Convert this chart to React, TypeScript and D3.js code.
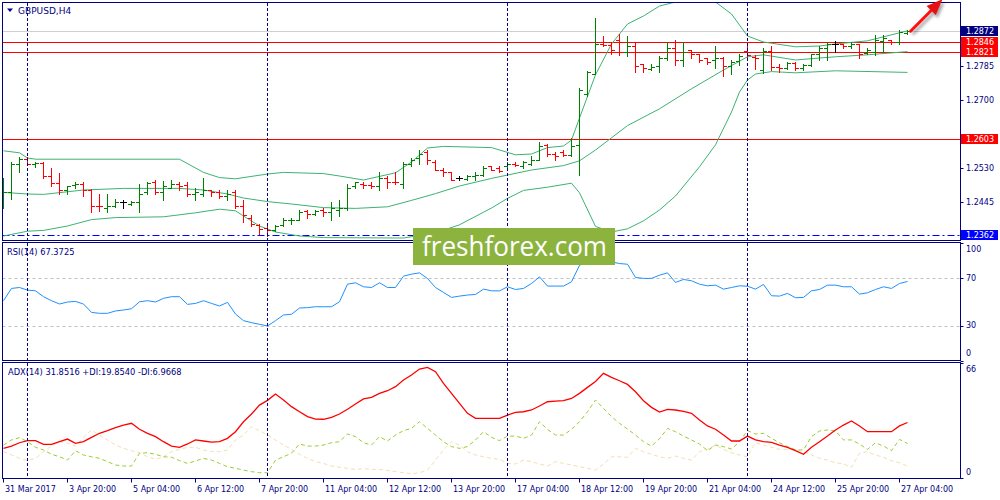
import React from "react";
import * as d3 from "d3";

// ---------- DATA ----------
const symbolTitle = "GBPUSD,H4";
const rsiTitle = "RSI(14) 67.3725";
const adxTitle = "ADX(14) 31.8516 +DI:19.8540 -DI:6.9668";

const timeTickBars = [0, 8, 16, 24, 32, 40, 48, 56, 64, 72, 80, 88, 96, 104, 112];
const timeTickLabels = [
  "31 Mar 2017", "3 Apr 20:00", "5 Apr 04:00", "6 Apr 12:00", "7 Apr 20:00",
  "11 Apr 04:00", "12 Apr 12:00", "13 Apr 20:00", "17 Apr 04:00", "18 Apr 12:00",
  "19 Apr 20:00", "21 Apr 04:00", "24 Apr 12:00", "25 Apr 20:00", "27 Apr 04:00",
];
const weekStartBars = [3, 33, 63, 93];

const priceTicks = [1.2785, 1.27, 1.2615, 1.253, 1.2445];
const redLevels = [1.2846, 1.2821, 1.2603];
const bidPrice = 1.2872;
const supportLevel = 1.2362;
const rsiLevels = [70, 30];
const rsiAxisLabels = [100, 70, 30, 0];
const adxAxisLabels = [66, 0];

const open = [
  1.2450, 1.2470, 1.2540, 1.2553, 1.2540, 1.2543, 1.2509, 1.2493, 1.2474, 1.2488,
  1.2491, 1.2475, 1.2436, 1.2431, 1.2434, 1.2444, 1.2441, 1.2446, 1.2469, 1.2496,
  1.2471, 1.2481, 1.2489, 1.2488, 1.2465, 1.2465, 1.2474, 1.2471, 1.2460, 1.2469,
  1.2435, 1.2405, 1.2388, 1.2380, 1.2375, 1.2388, 1.2400, 1.2401, 1.2423, 1.2416,
  1.2425, 1.2421, 1.2425, 1.2429, 1.2484, 1.2491, 1.2488, 1.2484, 1.2504, 1.2496,
  1.2491, 1.2541, 1.2554, 1.2569, 1.2546, 1.2525, 1.2519, 1.2504, 1.2503, 1.2509,
  1.2513, 1.2534, 1.2529, 1.2534, 1.2541, 1.2535, 1.2540, 1.2551, 1.2588, 1.2565,
  1.2571, 1.2563, 1.2588, 1.2716, 1.2766, 1.2841, 1.2838, 1.2850, 1.2821, 1.2836,
  1.2789, 1.2778, 1.2784, 1.2806, 1.2831, 1.2800, 1.2826, 1.2815, 1.2804, 1.2800,
  1.2805, 1.2784, 1.2798, 1.2823, 1.2808, 1.2775, 1.2823, 1.2783, 1.2780, 1.2793,
  1.2779, 1.2788, 1.2814, 1.2829, 1.2840, 1.2839, 1.2836, 1.2840, 1.2818, 1.2821,
  1.2848, 1.2850, 1.2844, 1.2868,
];
const high = [
  1.2505, 1.2545, 1.2558, 1.2558, 1.2545, 1.2544, 1.2530, 1.2518, 1.2484, 1.2494,
  1.2495, 1.2477, 1.2466, 1.2464, 1.2453, 1.2449, 1.2448, 1.2491, 1.2494, 1.2499,
  1.2498, 1.2500, 1.2494, 1.2494, 1.2479, 1.2504, 1.2476, 1.2475, 1.2476, 1.2476,
  1.2450, 1.2413, 1.2390, 1.2388, 1.2388, 1.2406, 1.2404, 1.2426, 1.2425, 1.2425,
  1.2431, 1.2444, 1.2449, 1.2491, 1.2496, 1.2494, 1.2494, 1.2519, 1.2509, 1.2521,
  1.2546, 1.2554, 1.2575, 1.2574, 1.2551, 1.2529, 1.2521, 1.2509, 1.2513, 1.2519,
  1.2534, 1.2535, 1.2534, 1.2544, 1.2544, 1.2548, 1.2559, 1.2596, 1.2590, 1.2571,
  1.2576, 1.2606, 1.2729, 1.2773, 1.2905, 1.2860, 1.2846, 1.2865, 1.2860, 1.2845,
  1.2791, 1.2791, 1.2809, 1.2844, 1.2849, 1.2846, 1.2826, 1.2816, 1.2806, 1.2835,
  1.2808, 1.2800, 1.2815, 1.2838, 1.2813, 1.2829, 1.2834, 1.2790, 1.2796, 1.2796,
  1.2791, 1.2816, 1.2834, 1.2846, 1.2848, 1.2841, 1.2844, 1.2841, 1.2830, 1.2863,
  1.2863, 1.2851, 1.2875, 1.2875,
];
const low = [
  1.2431, 1.2453, 1.2520, 1.2538, 1.2533, 1.2505, 1.2485, 1.2465, 1.2465, 1.2480,
  1.2460, 1.2419, 1.2423, 1.2421, 1.2433, 1.2430, 1.2438, 1.2421, 1.2465, 1.2465,
  1.2450, 1.2479, 1.2475, 1.2459, 1.2449, 1.2460, 1.2460, 1.2456, 1.2451, 1.2429,
  1.2395, 1.2384, 1.2365, 1.2360, 1.2373, 1.2384, 1.2390, 1.2399, 1.2404, 1.2413,
  1.2410, 1.2401, 1.2410, 1.2426, 1.2479, 1.2479, 1.2479, 1.2476, 1.2479, 1.2490,
  1.2481, 1.2535, 1.2541, 1.2540, 1.2524, 1.2509, 1.2499, 1.2499, 1.2500, 1.2501,
  1.2509, 1.2525, 1.2521, 1.2525, 1.2534, 1.2529, 1.2538, 1.2550, 1.2559, 1.2550,
  1.2559, 1.2560, 1.2513, 1.2709, 1.2765, 1.2835, 1.2816, 1.2813, 1.2810, 1.2771,
  1.2769, 1.2776, 1.2771, 1.2801, 1.2788, 1.2785, 1.2804, 1.2796, 1.2791, 1.2779,
  1.2760, 1.2765, 1.2788, 1.2805, 1.2778, 1.2768, 1.2774, 1.2771, 1.2778, 1.2775,
  1.2775, 1.2784, 1.2801, 1.2799, 1.2819, 1.2829, 1.2831, 1.2804, 1.2814, 1.2813,
  1.2821, 1.2840, 1.2840, 1.2865,
];
const close = [
  1.2470, 1.2540, 1.2553, 1.2540, 1.2543, 1.2509, 1.2493, 1.2475, 1.2484, 1.2491,
  1.2475, 1.2434, 1.2434, 1.2434, 1.2446, 1.2444, 1.2446, 1.2465, 1.2493, 1.2471,
  1.2485, 1.2491, 1.2486, 1.2465, 1.2471, 1.2474, 1.2469, 1.2460, 1.2466, 1.2434,
  1.2413, 1.2390, 1.2378, 1.2375, 1.2385, 1.2400, 1.2401, 1.2421, 1.2416, 1.2423,
  1.2421, 1.2429, 1.2431, 1.2481, 1.2494, 1.2488, 1.2484, 1.2504, 1.2494, 1.2494,
  1.2541, 1.2550, 1.2566, 1.2549, 1.2525, 1.2519, 1.2501, 1.2504, 1.2509, 1.2513,
  1.2529, 1.2526, 1.2523, 1.2541, 1.2538, 1.2544, 1.2551, 1.2584, 1.2565, 1.2561,
  1.2563, 1.2585, 1.2725, 1.2771, 1.2840, 1.2838, 1.2824, 1.2820, 1.2835, 1.2784,
  1.2781, 1.2783, 1.2806, 1.2831, 1.2800, 1.2821, 1.2816, 1.2801, 1.2796, 1.2804,
  1.2785, 1.2795, 1.2810, 1.2813, 1.2805, 1.2823, 1.2783, 1.2779, 1.2793, 1.2780,
  1.2788, 1.2814, 1.2829, 1.2841, 1.2840, 1.2835, 1.2840, 1.2816, 1.2825, 1.2850,
  1.2854, 1.2844, 1.2869, 1.2872,
];

const bbUpperBars = [0, 2, 3, 4, 22, 25, 27, 29, 33, 35, 40, 42, 45, 49, 51, 53, 55, 61, 64, 66, 68, 70, 71, 72, 74, 76, 78, 80, 82, 84, 86, 88, 89, 91, 93, 95, 99, 102, 104, 108, 110, 113];
const bbUpper = [1.2573, 1.2568, 1.2555, 1.2552, 1.2552, 1.2519, 1.2506, 1.2503, 1.2515, 1.2519, 1.2516, 1.2510, 1.2500, 1.2518, 1.2545, 1.2580, 1.2584, 1.2581, 1.2563, 1.2565, 1.2581, 1.2585, 1.2600, 1.2655, 1.2763, 1.2840, 1.2890, 1.2910, 1.2935, 1.2945, 1.2950, 1.2950, 1.2945, 1.2915, 1.2860, 1.2845, 1.2833, 1.2835, 1.2840, 1.2848, 1.2858, 1.2873];
const bbMiddleBars = [0, 3, 5, 10, 15, 22, 25, 28, 30, 33, 36, 40, 44, 48, 51, 54, 57, 61, 66, 70, 72, 74, 78, 82, 86, 90, 93, 95, 99, 102, 104, 108, 113];
const bbMiddle = [1.2469, 1.2465, 1.2464, 1.2475, 1.2479, 1.2479, 1.2475, 1.2465, 1.2455, 1.2446, 1.2440, 1.2431, 1.2429, 1.2433, 1.2449, 1.2466, 1.2485, 1.2504, 1.2525, 1.2536, 1.2548, 1.2575, 1.2636, 1.2678, 1.2728, 1.2775, 1.2808, 1.2813, 1.2800, 1.2805, 1.2808, 1.2813, 1.2821];
const bbLowerBars = [0, 3, 5, 8, 11, 14, 20, 24, 27, 29, 30, 32, 34, 37, 40, 50, 54, 57, 61, 63, 65, 68, 71, 72, 74, 76, 78, 80, 82, 84, 87, 89, 91, 92, 93, 94, 96, 99, 104, 113];
const bbLower = [1.2360, 1.2372, 1.2374, 1.2385, 1.2401, 1.2406, 1.2408, 1.2418, 1.2427, 1.2423, 1.2410, 1.2385, 1.2370, 1.2360, 1.2356, 1.2355, 1.2368, 1.2388, 1.2430, 1.2454, 1.2474, 1.2482, 1.2492, 1.2468, 1.2384, 1.2370, 1.2378, 1.2398, 1.2425, 1.2460, 1.2533, 1.2588, 1.2670, 1.2720, 1.2750, 1.2765, 1.2771, 1.2768, 1.2773, 1.2769];

const rsi = [
  51.1, 61.5, 62.3, 60.1, 59.5, 54.5, 51.1, 48.3, 50.0, 50.5,
  48.3, 41.2, 40.4, 40.4, 42.4, 43.2, 44.3, 50.2, 51.1, 50.0,
  53.1, 54.5, 54.5, 48.0, 48.8, 51.1, 48.8, 46.6, 49.7, 39.8,
  34.2, 32.5, 31.1, 29.7, 34.2, 39.0, 39.6, 44.9, 45.2, 46.0,
  46.0, 46.0, 50.2, 65.1, 66.3, 62.9, 62.3, 66.3, 62.3, 62.3,
  71.9, 73.6, 74.7, 69.9, 62.3, 58.1, 53.9, 55.0, 55.9, 56.4,
  60.9, 59.5, 59.4, 62.9, 60.6, 61.5, 65.7, 71.3, 63.5, 63.5,
  63.5, 67.1, 81.0, 85.0, 90.0, 88.5, 84.0, 82.6, 82.0, 70.8,
  70.0, 70.0, 72.7, 74.7, 66.6, 69.1, 68.0, 65.1, 63.7, 64.3,
  60.9, 62.3, 63.7, 63.4, 60.9, 64.9, 55.3, 55.0, 57.3, 53.6,
  53.9, 59.5, 60.6, 64.3, 64.3, 62.9, 62.9, 56.7, 57.8, 60.6,
  62.9, 61.5, 65.7, 67.37,
];

const adx = [
  17.1, 18.4, 20.3, 21.5, 21.5, 19.4, 19.4, 20.9, 22.4, 20.0,
  20.9, 23.4, 25.7, 27.2, 28.9, 30.4, 31.4, 28.0, 25.7, 23.8,
  20.9, 18.4, 17.7, 19.6, 21.9, 21.3, 20.7, 20.9, 22.8, 26.6,
  32.3, 36.7, 41.8, 44.5, 48.1, 44.7, 40.9, 38.0, 35.2, 33.8,
  33.7, 34.8, 36.7, 39.4, 42.4, 45.3, 46.2, 48.5, 50.0, 52.3,
  56.1, 59.0, 62.4, 63.3, 60.9, 54.2, 48.5, 42.8, 37.1, 34.2,
  34.2, 34.2, 34.2, 36.1, 37.7, 38.0, 39.0, 41.3, 43.7, 44.1,
  44.3, 45.6, 48.5, 51.9, 55.3, 59.9, 57.6, 55.7, 53.6, 49.4,
  44.3, 40.5, 37.8, 39.4, 39.0, 38.2, 37.1, 33.3, 29.9, 28.0,
  24.7, 21.3, 21.3, 24.1, 21.9, 20.9, 20.5, 19.0, 17.7, 15.8,
  13.7, 17.7, 20.9, 24.1, 27.6, 30.4, 32.7, 29.9, 26.6, 26.6,
  26.6, 26.6, 29.9, 31.85,
];
const plusDI = [
  19.0, 21.9, 23.2, 20.9, 17.7, 16.2, 13.7, 12.3, 10.4, 15.8,
  13.3, 12.3, 11.4, 9.5, 7.6, 7.0, 7.0, 14.3, 14.6, 13.7,
  12.3, 12.0, 10.1, 8.5, 9.9, 11.4, 10.4, 8.5, 6.6, 5.7,
  4.7, 3.8, 3.2, 3.2, 10.4, 12.3, 14.3, 19.6, 18.4, 18.4,
  19.0, 20.3, 20.9, 25.3, 23.8, 20.3, 19.0, 23.8, 21.3, 24.7,
  27.2, 28.5, 32.3, 28.5, 24.7, 20.9, 18.1, 17.1, 18.1, 21.9,
  26.6, 23.4, 21.5, 24.1, 24.1, 22.8, 24.7, 32.3, 27.9, 24.7,
  24.7, 27.9, 32.3, 38.0, 44.7, 39.9, 35.2, 31.4, 28.1, 24.7,
  20.9, 18.4, 22.6, 28.5, 26.6, 24.1, 21.9, 19.6, 15.8, 19.0,
  18.1, 16.7, 20.9, 27.2, 25.3, 25.7, 22.8, 20.3, 18.1, 16.2,
  16.2, 23.8, 27.0, 27.6, 27.0, 21.9, 21.9, 19.6, 16.5, 20.3,
  18.4, 15.8, 22.2, 19.85,
];
const minusDI = [
  15.2, 13.3, 11.4, 10.1, 11.4, 15.2, 18.4, 20.9, 20.0, 18.4,
  23.4, 27.6, 24.7, 21.9, 19.0, 17.1, 15.8, 14.6, 12.3, 10.8,
  12.3, 15.2, 16.5, 17.7, 17.7, 16.2, 15.2, 15.2, 16.2, 21.9,
  24.7, 29.5, 27.2, 24.7, 21.9, 19.0, 16.5, 13.7, 11.4, 9.5,
  8.5, 7.0, 6.3, 5.7, 5.1, 5.5, 5.1, 5.1, 4.4, 3.8,
  3.2, 2.6, 3.2, 4.7, 10.4, 16.2, 20.9, 19.0, 15.2, 13.3,
  12.3, 11.4, 10.8, 8.5, 8.2, 10.4, 9.5, 8.2, 7.0, 9.5,
  8.5, 7.6, 6.6, 5.7, 4.7, 8.2, 12.3, 12.3, 12.0, 17.1,
  15.2, 13.7, 12.3, 11.4, 12.7, 11.4, 10.4, 15.2, 16.5, 19.0,
  16.5, 14.6, 13.3, 12.3, 20.3, 19.0, 17.7, 16.5, 16.5, 16.2,
  15.2, 13.3, 11.4, 10.4, 8.9, 8.2, 6.3, 14.3, 15.2, 13.3,
  12.0, 10.1, 8.9, 6.97,
];

// ---------- COMPONENT ----------
const FONT = "'DejaVu Sans', Verdana, sans-serif";
const NAVY = "#000080";

export default function App() {
  const n = close.length;
  const L = 2.5, R = 960.5;
  const main = { top: 2.5, bottom: 240.5 };
  const rsiP = { top: 242.5, bottom: 360.5 };
  const adxP = { top: 362.5, bottom: 478.5 };

  const x = d3.scaleLinear().domain([0, n - 1]).range([3.5, 3.5 + 8 * (n - 1)]);
  const yP = d3.scaleLinear().domain([1.235, 1.295]).range([240, 0]);
  const yR = d3.scaleLinear().domain([0, 100]).range([361, 243]);
  const yA = d3.scaleLinear().domain([0, 66]).range([478.3, 362.7]);

  const rr = (v: number) => Math.round(v) + 0.5;

  const barPaths: Record<string, string> = { up: "", down: "", flat: "" };
  for (let i = 0; i < n; i++) {
    const xi = x(i);
    const key = close[i] > open[i] ? "up" : close[i] < open[i] ? "down" : "flat";
    const yh = Math.round(yP(high[i]));
    const yl = Math.round(yP(low[i])) + 1;
    barPaths[key] +=
      `M${xi},${yh}V${yl}` +
      `M${xi - 3.5},${rr(yP(open[i]))}H${xi}` +
      `M${xi},${rr(yP(close[i]))}H${xi + 3.5}`;
  }

  const bandLine = (bars: number[], vals: number[]) =>
    d3.line<number>().x((_, k) => x(bars[k])).y((v) => yP(v))(vals) || "";

  const seriesLine = (vals: number[], ys: d3.ScaleLinear<number, number>) =>
    d3.line<number>().x((_, i) => x(i)).y((v) => ys(v))(vals) || "";

  // boxed price labels on the right axis
  const boxes = [
    { p: bidPrice, c: "#000080" },
    { p: redLevels[0], c: "#ff0000" },
    { p: redLevels[1], c: "#ff0000" },
    { p: redLevels[2], c: "#ff0000" },
    { p: supportLevel, c: "#0000ff" },
  ];
  // plain tick labels that are covered by a boxed label are hidden (as on the terminal)
  const visibleTicks = priceTicks.filter((p) =>
    boxes.every((b) => Math.abs(yP(b.p) - yP(p)) > 9)
  );

  // arrow anchored at last bar
  const ax0 = x(n - 1) + 3, ay0 = yP(close[n - 1]);
  const tipX = ax0 + 32, tipY = ay0 - 32;
  const s = Math.SQRT1_2;
  const hl = 16, hw = 6.5;
  const bx = tipX - s * hl, by = tipY + s * hl;
  const arrowHead = `M${tipX},${tipY}L${bx + hw * s},${by + hw * s}L${bx - hw * s},${by - hw * s}Z`;

  const priceLabel = (p: number) => p.toFixed(4);

  return (
    <svg
      width={1000}
      height={500}
      style={{ position: "absolute", left: 0, top: 0, background: "#fff" }}
      fontFamily={FONT}
    >
      <defs>
        <clipPath id="cMain"><rect x={3} y={3} width={957} height={237} /></clipPath>
        <clipPath id="cRsi"><rect x={3} y={243} width={957} height={117} /></clipPath>
        <clipPath id="cAdx"><rect x={3} y={363} width={957} height={115} /></clipPath>
        <filter id="shadow" x="-50%" y="-50%" width="200%" height="200%">
          <feGaussianBlur stdDeviation="1.5" />
        </filter>
      </defs>
      <rect x={0} y={0} width={1000} height={500} fill="#fff" />

      {/* ---- MAIN PANEL ---- */}
      <g clipPath="url(#cMain)">
        <line x1={L} x2={R} y1={rr(yP(bidPrice))} y2={rr(yP(bidPrice))} stroke="#d0d0d0" />
        {redLevels.map((p) => (
          <line key={p} x1={L} x2={R} y1={rr(yP(p))} y2={rr(yP(p))} stroke="#ff0000" />
        ))}
        <line x1={L} x2={R} y1={rr(yP(supportLevel))} y2={rr(yP(supportLevel))}
          stroke="#0000ff" strokeDasharray="7,3,2,3" />
        <path d={bandLine(bbUpperBars, bbUpper)} fill="none" stroke="#3cb371" strokeWidth={1} />
        <path d={bandLine(bbMiddleBars, bbMiddle)} fill="none" stroke="#3cb371" strokeWidth={1} />
        <path d={bandLine(bbLowerBars, bbLower)} fill="none" stroke="#3cb371" strokeWidth={1} />
        <path d={barPaths.up} stroke="#008000" strokeWidth={1} fill="none" shapeRendering="crispEdges" />
        <path d={barPaths.down} stroke="#ff0000" strokeWidth={1} fill="none" shapeRendering="crispEdges" />
        <path d={barPaths.flat} stroke="#000000" strokeWidth={1} fill="none" shapeRendering="crispEdges" />
      </g>

      {/* ---- RSI PANEL ---- */}
      <g clipPath="url(#cRsi)">
        {rsiLevels.map((v) => (
          <line key={v} x1={L} x2={R} y1={rr(yR(v))} y2={rr(yR(v))} stroke="#c0c0c0" strokeDasharray="3,3" />
        ))}
        <path d={seriesLine(rsi, yR)} fill="none" stroke="#1e90ff" strokeWidth={1} />
      </g>

      {/* ---- ADX PANEL ---- */}
      <g clipPath="url(#cAdx)">
        <path d={seriesLine(minusDI, yA)} fill="none" stroke="#f5deb3" strokeWidth={1} strokeDasharray="4,3" />
        <path d={seriesLine(plusDI, yA)} fill="none" stroke="#9acd32" strokeWidth={1} strokeDasharray="4,3" />
        <path d={seriesLine(adx, yA)} fill="none" stroke="#ff0000" strokeWidth={1.3} />
      </g>

      {/* week separators */}
      {weekStartBars.map((b) => (
        <line key={b} x1={x(b)} x2={x(b)} y1={3} y2={478} stroke={NAVY} strokeDasharray="3,2" />
      ))}

      {/* panel borders */}
      <rect x={L} y={main.top} width={R - L} height={main.bottom - main.top} fill="none" stroke={NAVY} />
      <rect x={L} y={rsiP.top} width={R - L} height={rsiP.bottom - rsiP.top} fill="none" stroke={NAVY} />
      <rect x={L} y={adxP.top} width={R - L} height={adxP.bottom - adxP.top} fill="none" stroke={NAVY} />

      {/* titles */}
      <path d="M7,8.5L13,8.5L10,12Z" fill={NAVY} />
      <text x={18} y={14} fontSize={9} fill={NAVY}>{symbolTitle}</text>
      <text x={7} y={254.5} fontSize={8.3} fill={NAVY}>{rsiTitle}</text>
      <text x={8} y={375} fontSize={8.3} fill={NAVY}>{adxTitle}</text>

      {/* price axis */}
      {priceTicks.map((p) => (
        <line key={"pt" + p} x1={R} x2={R + 3} y1={rr(yP(p))} y2={rr(yP(p))} stroke={NAVY} />
      ))}
      {visibleTicks.map((p) => (
        <text key={"pl" + p} x={966} y={yP(p)} dominantBaseline="central" fontSize={8} fill={NAVY}>{priceLabel(p)}</text>
      ))}
      {boxes.map(({ p, c }) => (
        <g key={"b" + p}>
          <rect x={961} y={Math.round(yP(p)) - 5} width={37} height={10} fill={c} />
          <text x={966} y={yP(p) + 0.5} dominantBaseline="central" fontSize={8} fill="#fff">{priceLabel(p)}</text>
        </g>
      ))}

      {/* RSI axis */}
      {rsiAxisLabels.map((v) => {
        const yy = yR(v);
        const ty = v === 100 ? yy + 6.5 : v === 0 ? yy - 8 : yy;
        return (
          <g key={"r" + v}>
            <line x1={R} x2={R + 3} y1={rr(yy)} y2={rr(yy)} stroke={NAVY} />
            <text x={966} y={ty} dominantBaseline="central" fontSize={8} fill={NAVY}>{v}</text>
          </g>
        );
      })}

      {/* ADX axis */}
      {adxAxisLabels.map((v) => {
        const yy = yA(v);
        const ty = v === 0 ? yy - 6 : yy + 6.5;
        return (
          <g key={"a" + v}>
            <line x1={R} x2={R + 3} y1={rr(yy)} y2={rr(yy)} stroke={NAVY} />
            <text x={966} y={ty} dominantBaseline="central" fontSize={8} fill={NAVY}>{v}</text>
          </g>
        );
      })}

      {/* time axis */}
      {timeTickBars.map((b, k) => (
        <g key={"t" + b}>
          <line x1={x(b)} x2={x(b)} y1={adxP.bottom} y2={adxP.bottom + 4} stroke={NAVY} />
          <text x={x(b) + 1.5} y={492} fontSize={8} fill={NAVY}>{timeTickLabels[k]}</text>
        </g>
      ))}

      {/* arrow */}
      <g transform="translate(2,3)" opacity={0.35} filter="url(#shadow)">
        <line x1={ax0} y1={ay0} x2={bx} y2={by} stroke="#000" strokeWidth={3} />
        <path d={arrowHead} fill="#000" />
      </g>
      <line x1={ax0} y1={ay0} x2={bx} y2={by} stroke="#ff1010" strokeWidth={3} strokeLinecap="round" />
      <path d={arrowHead} fill="#e81010" />

      {/* watermark */}
      <rect x={413} y={228} width={202} height={37} fill="#8db33f" />
      <text x={422} y={256} fontFamily="'Open Sans', sans-serif" fontSize={27}
        fill="#ffffff" textLength={185} lengthAdjust="spacingAndGlyphs">freshforex.com</text>
    </svg>
  );
}
